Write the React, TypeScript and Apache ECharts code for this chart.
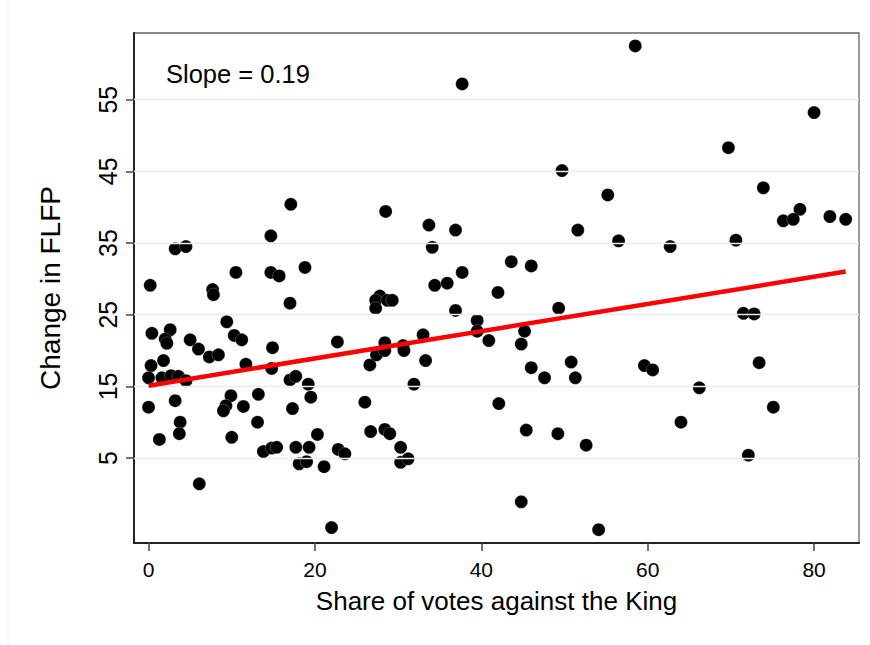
import React, { useEffect, useRef } from "react";
import * as echarts from "echarts";

// Share of votes against the King (%) per district
const share = [
  37.7, 3.2, 4.5, 17.1, 14.7, 28.5, 33.7, 36.9, 34.1, 0.2,
  7.7, 7.8, 10.5, 14.7, 15.7, 18.8, 34.4, 35.9, 37.7, 42.0,
  58.5, 80.0, 69.7, 49.7, 73.9, 55.2, 78.3, 76.3, 77.5, 81.9,
  83.8, 51.6, 56.5, 62.7, 70.6, 43.6, 46.0, 17.0, 27.8, 27.3,
  27.3, 28.7, 29.3, 36.9, 39.5, 39.5, 40.9, 42.1, 0.4, 2.6,
  2.0, 2.2, 5.0, 6.0, 7.3, 8.4, 9.4, 10.3, 11.2, 11.7,
  14.9, 14.8, 22.7, 0.3, 1.8, 0.0, 1.6, 2.7, 3.6, 4.5,
  0.0, 3.2, 3.8, 3.7, 1.3, 6.1, 9.9, 9.3, 9.0, 11.4,
  10.0, 13.2, 13.1, 13.8, 14.8, 15.4, 17.0, 17.7, 19.2, 19.5,
  17.3, 17.7, 19.3, 20.3, 18.1, 19.0, 21.1, 22.0, 22.8, 23.6,
  26.0, 26.6, 27.4, 28.4, 28.4, 30.6, 30.7, 33.0, 33.3, 31.9,
  26.7, 28.4, 29.0, 30.3, 30.3, 31.2, 49.3, 45.2, 44.8, 46.0,
  47.6, 50.8, 51.3, 59.6, 60.6, 71.5, 72.8, 73.4, 66.2, 75.1,
  45.4, 49.2, 52.6, 64.0, 72.1, 44.8, 54.1,
];

// Change in female labour force participation, same districts
const flfpChange = [
  57.2, 34.2, 34.5, 40.4, 36.0, 39.4, 37.5, 36.8, 34.4, 29.1,
  28.5, 27.8, 30.9, 30.9, 30.4, 31.6, 29.1, 29.4, 30.9, 28.1,
  62.5, 53.2, 48.3, 45.1, 42.7, 41.7, 39.7, 38.1, 38.3, 38.7,
  38.3, 36.8, 35.3, 34.5, 35.4, 32.4, 31.8, 26.6, 27.6, 27.0,
  25.9, 27.0, 27.0, 25.6, 24.2, 22.7, 21.4, 12.6, 22.4, 22.9,
  21.6, 21.0, 21.5, 20.2, 19.1, 19.4, 24.0, 22.1, 21.5, 18.1,
  20.4, 17.5, 21.2, 17.9, 18.6, 16.2, 16.2, 16.5, 16.4, 15.8,
  12.1, 13.0, 10.0, 8.4, 7.6, 1.4, 13.7, 12.3, 11.6, 12.2,
  7.9, 13.9, 10.0, 5.9, 6.4, 6.5, 15.9, 16.4, 15.3, 13.5,
  11.9, 6.5, 6.5, 8.3, 4.2, 4.5, 3.8, -4.7, 6.2, 5.6,
  12.8, 18.0, 19.4, 21.1, 20.0, 20.7, 20.0, 22.2, 18.6, 15.3,
  8.7, 9.0, 8.4, 6.5, 4.4, 4.9, 25.9, 22.7, 20.9, 17.6,
  16.2, 18.4, 16.2, 17.9, 17.3, 25.2, 25.1, 18.3, 14.8, 12.1,
  8.9, 8.4, 6.8, 10.0, 5.4, -1.1, -5.0,
];

const xTicks = [0, 20, 40, 60, 80];
const yTicks = [5, 15, 25, 35, 45, 55];

// Fitted linear trend
const fitSlope = 0.19;
const fitIntercept = 15.1;
const fitXMax = 83.8;

const FONT = '"Liberation Sans", Arial, Helvetica, sans-serif';

export default function App() {
  const ref = useRef<HTMLDivElement>(null);

  useEffect(() => {
    if (!ref.current) return;
    const chart = echarts.init(ref.current, null, { renderer: "svg" });

    const points = share.map((x, i) => [x, flfpChange[i]]);
    const fitLine = [
      [0, fitIntercept],
      [fitXMax, fitIntercept + fitSlope * fitXMax],
    ];

    chart.setOption({
      animation: false,
      backgroundColor: "#ffffff",
      grid: {
        left: 134,
        right: 11,
        top: 33,
        bottom: 102,
        show: true,
        borderColor: "#666",
        borderWidth: 1.3,
        backgroundColor: "transparent",
      },
      xAxis: {
        type: "value",
        min: -1.75,
        max: 85.4,
        name: "Share of votes against the King",
        nameLocation: "middle",
        nameGap: 45,
        nameTextStyle: { fontFamily: FONT, fontSize: 26, color: "#000" },
        axisLine: { show: true, onZero: false, lineStyle: { color: "#222", width: 2 } },
        axisTick: {
          show: true,
          length: 8,
          customValues: xTicks,
          lineStyle: { color: "#444", width: 1.5 },
        },
        axisLabel: {
          customValues: xTicks,
          margin: 16,
          fontFamily: FONT,
          fontSize: 21,
          color: "#000",
        },
        splitLine: { show: false },
      },
      yAxis: {
        type: "value",
        min: -6.85,
        max: 64.3,
        name: "Change in FLFP",
        nameLocation: "middle",
        nameGap: 70,
        nameTextStyle: { fontFamily: FONT, fontSize: 28, color: "#000" },
        axisLine: { show: true, onZero: false, lineStyle: { color: "#222", width: 2 } },
        axisTick: {
          show: true,
          length: 8,
          customValues: yTicks,
          lineStyle: { color: "#444", width: 1.5 },
        },
        axisLabel: {
          customValues: yTicks,
          rotate: 90,
          margin: 14,
          fontFamily: FONT,
          fontSize: 25,
          color: "#000",
        },
        splitLine: { show: false },
      },
      graphic: [
        {
          type: "line",
          shape: { x1: 8, y1: 0, x2: 8, y2: 645 },
          style: { stroke: "#f2f2f2", lineWidth: 1 },
          silent: true,
        },
        {
          type: "text",
          left: 166,
          top: 61,
          z: 10,
          style: {
            text: `Slope = ${fitSlope.toFixed(2)}`,
            font: `25.5px ${FONT}`,
            fill: "#000",
          },
        },
      ],
      series: [
        {
          name: "grid",
          type: "scatter",
          data: [],
          z: 1,
          silent: true,
          markLine: {
            silent: true,
            symbol: "none",
            label: { show: false },
            lineStyle: { color: "#e4edf0", width: 1.3, type: "solid" },
            data: yTicks.map((v) => ({ yAxis: v })),
          },
        },
        {
          name: "districts",
          type: "scatter",
          data: points,
          symbol: "circle",
          symbolSize: 13,
          z: 3,
          itemStyle: {
            color: "#000",
            opacity: 1,
            borderColor: "rgba(255,255,255,0.5)",
            borderWidth: 0.5,
          },
        },
        {
          name: "fit",
          type: "line",
          data: fitLine,
          z: 5,
          symbol: "none",
          lineStyle: { color: "#ff0000", width: 4.5 },
        },
      ],
    });

    return () => chart.dispose();
  }, []);

  return (
    <div
      ref={ref}
      style={{ position: "absolute", left: 0, top: 0, width: 870, height: 645, background: "#fff" }}
    />
  );
}
